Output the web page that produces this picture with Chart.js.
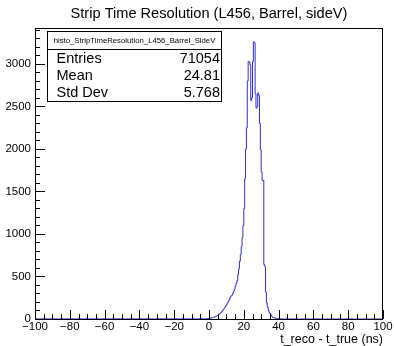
<!DOCTYPE html>
<html>
<head>
<meta charset="utf-8">
<script src="https://cdn.jsdelivr.net/npm/chart.js@4.4.1/dist/chart.umd.min.js"></script>
<style>
  html, body { margin: 0; padding: 0; background: #ffffff; }
  canvas { display: block; }
</style>
</head>
<body>
<canvas id="c" width="394" height="346"></canvas>
<script>
// ---- Data ----
const chartTitle = "Strip Time Resolution (L456, Barrel, sideV)";
const histName = "histo_StripTimeResolution_L456_Barrel_SideV";
const xAxisTitle = "t_reco - t_true (ns)";
const xRange = [-100, 100];
const yMax = 3423;
const xTickValues = [-100, -80, -60, -40, -20, 0, 20, 40, 60, 80, 100];
const yTickValues = [0, 500, 1000, 1500, 2000, 2500, 3000];
const statLabels = ["Entries", "Mean", "Std Dev"];
const statValues = ["71054", "24.81", "5.768"];
// histogram: first non-empty bin low edge and bin width (ns)
const binStart = -5;
const binWidth = 0.5;
const counts = [
  1, 1, 2, 2, 3, 3, 4, 4, 5, 5,
  6, 4, 10, 12, 14, 17, 20, 23, 27, 32,
  38, 45, 53, 62, 72, 83, 95, 108, 122, 138,
  155, 172, 190, 210, 232, 255, 270, 280, 300, 325,
  350, 385, 420, 450, 520, 590, 680, 760, 850, 960,
  1100, 1300, 1650, 2000, 2250, 2800, 3030, 3020, 2990, 2570,
  2600, 3030, 3260, 3250, 2650, 2480, 2500, 2660, 2630, 2300,
  1990, 1730, 1630, 1630, 640, 620, 316, 190, 140, 100,
  75, 65, 45, 30, 21, 16, 12, 9, 7, 5,
  4, 3, 2, 2, 1
];

// ---- Build step outline points ----
const pts = [{ x: xRange[0], y: 0 }];
counts.forEach((c, i) => pts.push({ x: binStart + i * binWidth, y: c }));
pts.push({ x: binStart + counts.length * binWidth, y: 0 });
pts.push({ x: xRange[1], y: 0 });

const FONT = "'Liberation Sans', Arial, Helvetica, sans-serif";
const minus = v => String(v).replace('-', '\u2212');

const rootDecor = {
  id: 'rootDecor',
  afterDraw(chart) {
    const ctx = chart.ctx;
    const a = chart.chartArea;
    const xs = chart.scales.x, ys = chart.scales.y;
    ctx.save();
    // frame
    ctx.strokeStyle = '#000';
    ctx.lineWidth = 1;
    ctx.strokeRect(Math.round(a.left) + 0.5, Math.round(a.top) + 0.5,
                   Math.round(a.right - a.left) - 1, Math.round(a.bottom - a.top));
    // y ticks (inside): major at labels, 5 minor divisions
    ctx.beginPath();
    const yStep = yTickValues[1] - yTickValues[0];
    for (let v = 0; v <= yMax; v += yStep / 5) {
      const y = Math.round(ys.getPixelForValue(v)) + 0.5;
      const len = (v % yStep === 0) ? 10 : 5;
      ctx.moveTo(a.left, y); ctx.lineTo(a.left + len, y);
    }
    // x ticks (inside, upward): major at labels, 4 minor divisions
    const xStep = xTickValues[1] - xTickValues[0];
    for (let v = xRange[0]; v <= xRange[1]; v += xStep / 4) {
      const x = Math.round(xs.getPixelForValue(v)) + 0.5;
      const len = (v % xStep === 0) ? 9 : 5;
      ctx.moveTo(x, a.bottom); ctx.lineTo(x, a.bottom - len);
    }
    ctx.stroke();
    // title
    ctx.fillStyle = '#000';
    ctx.font = '14.6px ' + FONT;
    ctx.textAlign = 'center';
    ctx.textBaseline = 'middle';
    ctx.fillText(chartTitle, (a.left + a.right) / 2, 13.5);
    // x axis title
    ctx.font = '12.5px ' + FONT;
    ctx.textAlign = 'right';
    ctx.fillText(xAxisTitle, a.right, 339.5);
    // stats box
    const bx = 47.5, by = 31.5, bw = 174, bh = 70;
    ctx.fillStyle = '#fff';
    ctx.fillRect(bx, by, bw, bh);
    ctx.strokeStyle = '#000';
    ctx.strokeRect(bx, by, bw, bh);
    ctx.beginPath();
    ctx.moveTo(bx, 49.5); ctx.lineTo(bx + bw, 49.5);
    ctx.stroke();
    ctx.fillStyle = '#000';
    ctx.font = '7.75px ' + FONT;
    ctx.textAlign = 'center';
    ctx.fillText(histName, bx + bw / 2, 40.5);
    ctx.font = '14.5px ' + FONT;
    const rowsY = [58.5, 76, 93];
    statLabels.forEach((l, i) => {
      ctx.textAlign = 'left';
      ctx.fillText(l, 56.5, rowsY[i]);
      ctx.textAlign = 'right';
      ctx.fillText(statValues[i], 220, rowsY[i]);
    });
    ctx.restore();
  }
};

new Chart(document.getElementById('c'), {
  type: 'line',
  data: {
    datasets: [{
      data: pts,
      stepped: 'after',
      borderColor: '#3030d0',
      borderWidth: 1,
      pointRadius: 0,
      fill: false,
      tension: 0
    }]
  },
  options: {
    responsive: false,
    animation: false,
    devicePixelRatio: 1,
    layout: { padding: { top: 28, right: 11, left: 0, bottom: 0 } },
    plugins: { legend: { display: false }, tooltip: { enabled: false }, title: { display: false } },
    scales: {
      x: {
        type: 'linear',
        min: xRange[0], max: xRange[1],
        grid: { display: false, drawTicks: false },
        border: { display: false },
        afterBuildTicks: s => { s.ticks = xTickValues.map(v => ({ value: v })); },
        ticks: {
          maxRotation: 0,
          autoSkip: false,
          padding: 1,
          color: '#000',
          font: { family: FONT, size: 11.5 },
          callback: v => minus(v)
        },
        afterFit: s => { s.height = 27; }
      },
      y: {
        min: 0, max: yMax,
        grid: { display: false, drawTicks: false },
        border: { display: false },
        afterBuildTicks: s => { s.ticks = yTickValues.map(v => ({ value: v })); },
        ticks: {
          autoSkip: false,
          padding: 4,
          color: '#000',
          font: { family: FONT, size: 11.5 },
          callback: v => String(v)
        },
        afterFit: s => { s.width = 35; }
      }
    }
  },
  plugins: [rootDecor]
});
</script>
</body>
</html>
